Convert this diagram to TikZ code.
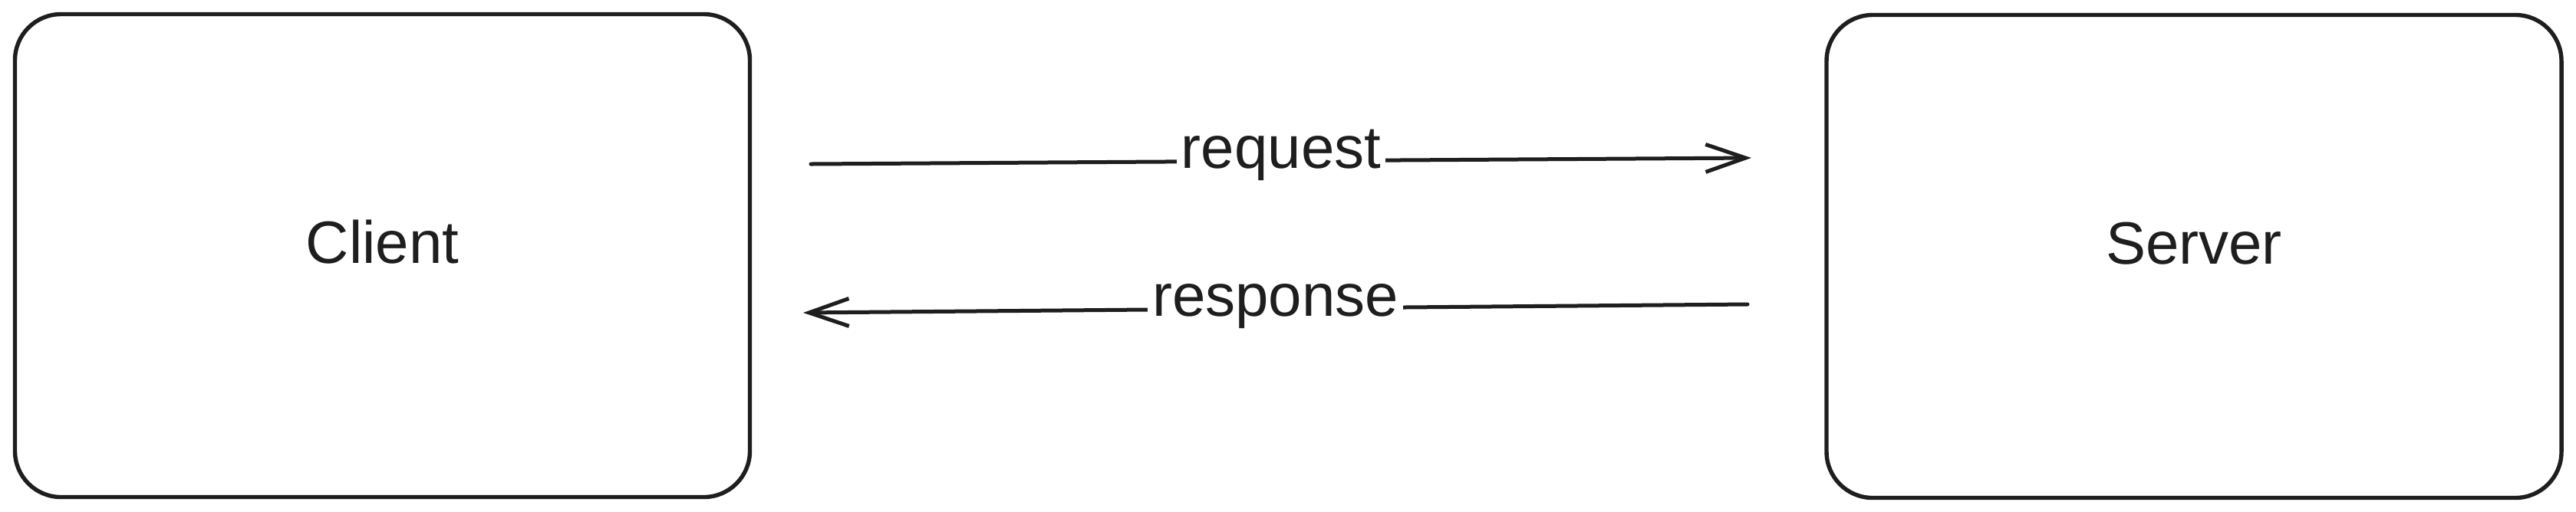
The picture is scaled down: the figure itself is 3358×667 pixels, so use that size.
\documentclass[tikz,border=0pt]{standalone}
\usepackage{fontspec}
\setmainfont{Liberation Sans}
\usetikzlibrary{arrows.meta}
\definecolor{ink}{HTML}{1E1E1E}
\begin{document}
\begin{tikzpicture}[x=0.25pt,y=-0.25pt,
  box/.style={draw=ink, line width=1.35pt, rounded corners=15pt, minimum width=239.5pt, minimum height=157.5pt, inner sep=0pt, font=\fontsize{19.5}{24}\selectfont, text=ink, text height=0.73em, text depth=0.25em},
  conn/.style={draw=ink, line width=1.25pt, line cap=round, -{Straight Barb[length=13pt,width=9pt,line width=1.25pt]}},
  lbl/.style={fill=white, inner sep=1.5pt, font=\fontsize{19.5}{24}\selectfont, text=ink, text height=0.7em, text depth=0.21em}]
\useasboundingbox[fill=white] (0,0) rectangle (3358,667);
\node[box] (client) at (498.5,333.5) {Client};
\node[box] (server) at (2860,334.5) {Server};
\coordinate (reqS) at (1057,214);
\coordinate (reqE) at (2283,206);
\coordinate (resS) at (2278,397);
\coordinate (resE) at (1047,408);
\draw[conn] (reqS) -- node[lbl] (reqL) {request} (reqE);
\draw[conn] (resS) -- node[lbl] (resL) {response} (resE);
\end{tikzpicture}
\end{document}
